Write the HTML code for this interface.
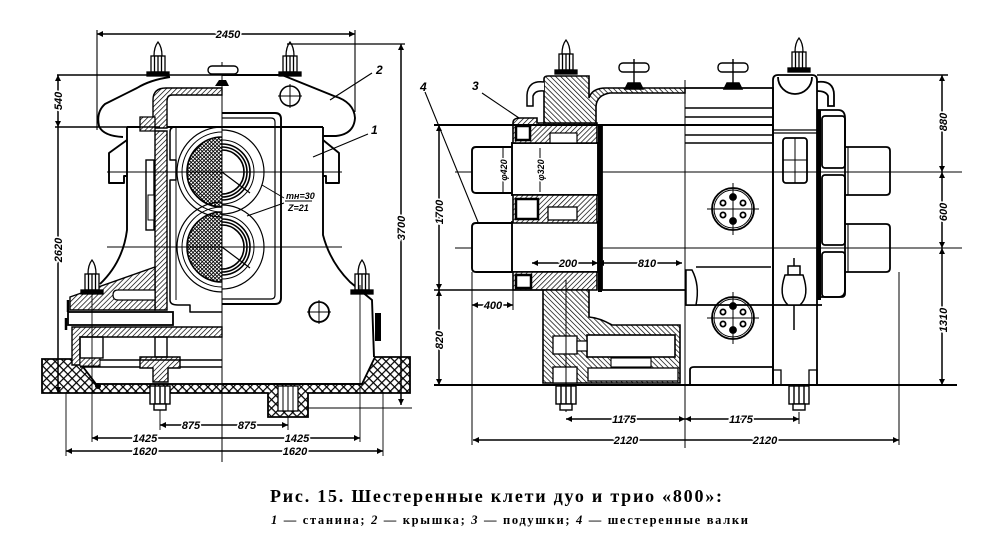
<!DOCTYPE html>
<html><head><meta charset="utf-8">
<style>
html,body{margin:0;padding:0;background:#fff;}
svg{display:block}
.t{font-family:"Liberation Sans",sans-serif;font-style:italic;font-weight:bold;font-size:11px;fill:#000;stroke:#fff;stroke-width:3;paint-order:stroke}
.cap{font-family:"Liberation Serif","Noto Serif CJK SC",serif;font-weight:bold;fill:#000}
</style></head><body>
<svg width="999" height="547" viewBox="0 0 999 547" xmlns="http://www.w3.org/2000/svg">
<defs>
<pattern id="h" width="3.6" height="3.6" patternUnits="userSpaceOnUse" patternTransform="rotate(45)"><rect width="3.6" height="3.6" fill="#fff"/><line x1="0" y1="0" x2="0" y2="3.6" stroke="#000" stroke-width="1.4"/></pattern>
<pattern id="h2" width="3.6" height="3.6" patternUnits="userSpaceOnUse" patternTransform="rotate(-45)"><rect width="3.6" height="3.6" fill="#fff"/><line x1="0" y1="0" x2="0" y2="3.6" stroke="#000" stroke-width="1.4"/></pattern>
<pattern id="x" width="6" height="6" patternUnits="userSpaceOnUse" patternTransform="rotate(45)"><rect width="6" height="6" fill="#fff"/><path d="M0 0H6M0 0V6" stroke="#000" stroke-width="2.4"/></pattern>
<pattern id="g" width="2.6" height="2.6" patternUnits="userSpaceOnUse" patternTransform="rotate(45)"><rect width="2.6" height="2.6" fill="#fff"/><path d="M0 0H2.6M0 0V2.6" stroke="#000" stroke-width="1.7"/></pattern>
<marker id="a" viewBox="0 0 10 10" refX="10" refY="5" markerWidth="6" markerHeight="4" orient="auto-start-reverse"><path d="M0,0 L10,5 L0,10z" fill="#000"/></marker>
<g id="bolt" fill="#fff" stroke="#000" stroke-width="1.3">
<path d="M-4,14 Q-4,5 0,0 Q4,5 4,14 Z"/>
<rect x="-7" y="14" width="14" height="16"/>
<path d="M-3.5,14V30M0,14V30M3.5,14V30" fill="none"/>
<rect x="-11" y="30" width="22" height="4" fill="#000"/>
</g>
<g id="bbolt" fill="#fff" stroke="#000" stroke-width="1.4">
<rect x="-10" y="0" width="20" height="18"/>
<path d="M-5,0V18M0,0V18M5,0V18" fill="none"/>
<rect x="-6" y="18" width="12" height="6"/>
</g>
<g id="scr" fill="#fff" stroke="#000" stroke-width="1.4">
<rect x="-15" y="0" width="30" height="9" rx="4"/>
<path d="M0,-4V26" fill="none"/>
<path d="M-9,26 L-6,20 H6 L9,26 Z" fill="#000"/>
</g>
<g id="flg" fill="none" stroke="#000" stroke-width="1.8">
<circle r="21"/><circle r="19" stroke-width="1"/>
<circle cx="0" cy="-12" r="3" fill="#000"/><circle cx="0" cy="12" r="3" fill="#000"/>
<circle cx="-10" cy="-6" r="2.6"/><circle cx="10" cy="-6" r="2.6"/>
<circle cx="-10" cy="6" r="2.6"/><circle cx="10" cy="6" r="2.6"/>
<path d="M-26,0H26M0,-26V26" stroke-width="1"/>
</g>
</defs>
<rect width="999" height="547" fill="#fff"/>

<!-- ================= LEFT VIEW ================= -->
<path d="M42,359 H77 L96,384 H362 L375,357 H410 V393 H308 V417 H268 V393 H42 Z" fill="url(#x)" stroke="#000" stroke-width="1.8"/>
<rect x="278" y="386" width="20" height="25" fill="#fff" stroke="#000" stroke-width="1.3"/>
<path d="M283,386V411M288,386V411M293,386V411" stroke="#000" stroke-width="1"/>

<g fill="none" stroke="#000" stroke-width="1.9" stroke-linejoin="round">
<path d="M222,75 H282 L334,96 Q354,102 355,118 Q354,134 336,136 H323"/>
<path d="M170,77 Q150,80 137,88 L105,104 Q96,112 99,126 Q103,136 123,137"/>
<path d="M57,75 H222" stroke-width="1.6"/>
<path d="M127,127 H323"/>
<path d="M323,127 V235 Q330,262 350,282 L372,300 L374,357"/>
<path d="M127,127 V230 Q123,262 100,284"/>
<path d="M127,140 L109,153 V183 H124 V176 H127"/>
<path d="M323,140 L339,153 V183 H326 V176 H323"/>
<path d="M222,384 H362"/>
<path d="M222,113 H275 Q281,113 281,119 V298 Q281,304 275,304 H222"/>
<path d="M222,118 H271 Q275,118 275,122 V295 Q275,299 271,299 H222" stroke-width="1.2"/>
<path d="M222,127 H175 Q170,127 170,132 V160 H176 V180 H170 V300 Q170,305 178,305 H190 V312 H222" stroke-width="1.5"/>
<path d="M176,127 V300" stroke-width="1"/>
</g>

<path d="M153,128 V100 Q153,88 166,88 H222 V95 H172 Q167,95 167,101 V128 Z" fill="url(#h)" stroke="#000" stroke-width="1.4"/>
<path d="M140,117 H155 V131 H140 Z" fill="url(#h)" stroke="#000" stroke-width="1.3"/>
<path d="M155,131 H167 V310 H155 Z" fill="url(#h)" stroke="#000" stroke-width="1.4"/>
<rect x="146" y="160" width="8" height="70" fill="#fff" stroke="#000" stroke-width="1.4"/>
<rect x="148" y="195" width="6" height="25" fill="#fff" stroke="#000" stroke-width="1"/>
<path d="M70,297 L155,267 V310 H70 Z" fill="url(#h)" stroke="#000" stroke-width="1.4"/>
<path d="M118,290 H155 V300 H118 Q113,300 113,295 Q113,290 118,290 Z" fill="#fff" stroke="#000" stroke-width="1.2"/>
<rect x="68" y="312" width="105" height="13" fill="#fff" stroke="#000" stroke-width="1.8"/>
<path d="M72,327 H222 V337 H80 V365 H72 Z" fill="url(#h)" stroke="#000" stroke-width="1.4"/>
<path d="M80,358 H100 V366 H80 Z" fill="url(#h)" stroke="#000" stroke-width="1"/>
<path d="M140,357 H180 V368 H168 V382 H153 V368 H140 Z" fill="url(#h)" stroke="#000" stroke-width="1.4"/>
<g fill="none" stroke="#000" stroke-width="1.4">
<rect x="80" y="337" width="23" height="21"/>
<rect x="155" y="337" width="12" height="20"/>
<path d="M100,360 H222 M80,367 H140 M180,367 H222 M96,384 H222"/>
<path d="M68,300 V312 M66,318 V330" stroke-width="2.5"/>
</g>

<!-- gears -->
<path d="M222,137 A35,35 0 0 0 222,207 Z" fill="url(#g)"/>
<path d="M222,212 A35,35 0 0 0 222,282 Z" fill="url(#g)"/>
<g fill="none" stroke="#000">
<path d="M222,137 A35,35 0 0 0 222,207 M222,212 A35,35 0 0 0 222,282" stroke-width="1.6"/>
<path d="M222,127 A45,45 0 0 0 222,217" stroke-width="1.2"/>
<path d="M222,202 A45,45 0 0 0 222,292" stroke-width="1.2"/>
<path d="M222,132 A40,40 0 0 0 222,212" stroke-width="1"/>
<path d="M222,207 A40,40 0 0 0 222,287" stroke-width="1"/>
<path d="M222,130 A42,42 0 0 1 222,214" stroke-width="1.2"/>
<path d="M222,205 A42,42 0 0 1 222,289" stroke-width="1.2"/>
<path d="M222,144 A28,28 0 0 1 222,200 M222,147 A25,25 0 0 1 222,197 M222,150 A22,22 0 0 1 222,194" stroke-width="1.6"/>
<path d="M222,219 A28,28 0 0 1 222,275 M222,222 A25,25 0 0 1 222,272 M222,225 A22,22 0 0 1 222,269" stroke-width="1.6"/>
<path d="M222,140 A32,32 0 0 1 222,204 M222,215 A32,32 0 0 1 222,279" stroke-width="1"/>
<path d="M222,172 L250,193 M222,247 L250,268" stroke-width="1.2"/>
<path d="M262,185 L284,198 M247,216 L284,203" stroke-width="1"/>
</g>
<text class="t" x="286" y="199" style="font-size:9px">mн=30</text>
<path d="M285,201 H312" stroke="#000" stroke-width="1"/>
<text class="t" x="288" y="211" style="font-size:9px">Z=21</text>

<g stroke="#000" stroke-width="1" fill="none">
<path d="M222,62 V462"/>
<path d="M107,172 H342 M107,247 H342"/>
</g>
<rect x="208" y="66" width="30" height="8" rx="4" fill="#fff" stroke="#000" stroke-width="1.4"/>
<path d="M215,86 L219,80 H226 L229,86 Z" fill="#000"/>
<use href="#bolt" x="158" y="42"/>
<use href="#bolt" x="290" y="42"/>
<use href="#bolt" x="92" y="260"/>
<use href="#bolt" x="362" y="260"/>
<use href="#bbolt" x="160" y="386"/>
<circle cx="290" cy="96" r="10" fill="none" stroke="#000" stroke-width="1.5"/>
<path d="M278,96H302M290,84V108" stroke="#000" stroke-width="1"/>
<circle cx="319" cy="312" r="10" fill="none" stroke="#000" stroke-width="1.8"/>
<path d="M307,312H331M319,300V324" stroke="#000" stroke-width="1"/>
<rect x="375" y="313" width="6" height="28" fill="#000"/>
<circle cx="98" cy="386" r="3" fill="#000"/>

<g stroke="#000" stroke-width="1.5" fill="none">
<path d="M97,34 H355" marker-start="url(#a)" marker-end="url(#a)"/>
<path d="M97,30 V130 M355,30 V112" stroke-width="1.1"/>
<path d="M287,44 H405" stroke-width="1.2"/>
<path d="M55,127 H160" stroke-width="1.4"/>
<path d="M58,75 V127" marker-start="url(#a)" marker-end="url(#a)"/>
<path d="M58,127 V393" marker-end="url(#a)"/>
<path d="M401,44 V405" marker-start="url(#a)" marker-end="url(#a)"/>
<path d="M305,408 H412" stroke-width="1.1"/>
<path d="M160,425 H288" marker-start="url(#a)" marker-end="url(#a)"/>
<path d="M92,438 H360" marker-start="url(#a)" marker-end="url(#a)"/>
<path d="M66,451 H383" marker-start="url(#a)" marker-end="url(#a)"/>
<path d="M66,393 V456 M92,285 V442 M160,410 V430 M288,417 V430 M360,285 V442 M383,393 V456" stroke-width="0.9"/>
</g>
<text class="t" x="228" y="38" text-anchor="middle">2450</text>
<text class="t" transform="translate(62,101) rotate(-90)" text-anchor="middle">540</text>
<text class="t" transform="translate(62,250) rotate(-90)" text-anchor="middle">2620</text>
<text class="t" transform="translate(405,228) rotate(-90)" text-anchor="middle">3700</text>
<text class="t" x="191" y="429" text-anchor="middle">875</text>
<text class="t" x="247" y="429" text-anchor="middle">875</text>
<text class="t" x="145" y="442" text-anchor="middle">1425</text>
<text class="t" x="297" y="442" text-anchor="middle">1425</text>
<text class="t" x="145" y="455" text-anchor="middle">1620</text>
<text class="t" x="295" y="455" text-anchor="middle">1620</text>
<text class="t" x="376" y="74" style="font-size:12px">2</text>
<text class="t" x="371" y="134" style="font-size:12px">1</text>
<path d="M372,73 L330,100 M368,134 L313,157" stroke="#000" stroke-width="1.1"/>

<!-- ================= RIGHT VIEW ================= -->
<g stroke="#000" stroke-width="1" fill="none">
<path d="M455,172 H962 M455,248 H962"/>
<path d="M685,80 V448"/>
</g>
<g fill="#fff" stroke="#000" stroke-width="1.9">
<path d="M512,147 H476 Q472,147 472,151 V189 Q472,193 476,193 H512"/>
<path d="M512,223 H476 Q472,223 472,227 V268 Q472,272 476,272 H512"/>
<rect x="512" y="143" width="86" height="52"/>
<rect x="512" y="222" width="86" height="50"/>
</g>
<path d="M513,123 V143 H597 V123 H537 V118 H520 Q513,118 513,123 Z" fill="url(#h)" stroke="#000" stroke-width="1.6"/>
<path d="M516,126 H530 V140 H516 Z" fill="#fff" stroke="#000" stroke-width="2.5"/>
<rect x="550" y="133" width="27" height="10" fill="#fff" stroke="#000" stroke-width="1.2"/>
<path d="M513,195 H597 V223 H513 Z" fill="url(#h)" stroke="#000" stroke-width="1.6"/>
<path d="M516,199 H538 V219 H516 Z" fill="#fff" stroke="#000" stroke-width="2.5"/>
<rect x="548" y="207" width="29" height="13" fill="#fff" stroke="#000" stroke-width="1.3"/>
<path d="M513,272 H597 V290 H513 Z" fill="url(#h)" stroke="#000" stroke-width="1.6"/>
<path d="M516,275 H531 V288 H516 Z" fill="#fff" stroke="#000" stroke-width="2.5"/>
<path d="M544,79 Q544,76 548,76 H589 V98 Q592,88 606,88 H685 V93 H610 Q597,95 596,106 V123 H544 Z" fill="url(#h2)" stroke="#000" stroke-width="1.6"/>
<path d="M544,82 Q528,80 527,95 V106 H533 V96 Q535,90 544,91" fill="#fff" stroke="#000" stroke-width="1.5"/>
<rect x="598" y="124" width="4" height="168" fill="#000"/>
<g fill="none" stroke="#000" stroke-width="1.8">
<path d="M434,125 H773" stroke-width="2"/>
<path d="M602,125 V290 M602,290 H685"/>
<path d="M685,88 H773 V385"/>
<path d="M685,108 H773 M685,117 H773 M685,135 H773 M685,143 H773" stroke-width="1.5"/>
<path d="M685,305 H822"/>
<path d="M690,385 V370 Q690,367 694,367 H773"/>
<path d="M773,385 V80 Q773,75 778,75 H812 Q817,75 817,80 V385"/>
<path d="M778,77 A17,17 0 0 0 812,77"/>
<path d="M773,130 H817 M773,133 H817" stroke-width="1.2"/>
<rect x="783" y="138" width="24" height="45" rx="3"/>
<path d="M783,160 H807 M795,138 V183" stroke-width="1"/>
<path d="M817,82 Q834,80 834,95 V106 H828 V96 Q826,91 817,91"/>
<path d="M817,110 H838 Q845,110 845,118 V290 Q845,297 838,297 H817"/>
<rect x="822" y="116" width="23" height="52" rx="3"/>
<rect x="822" y="175" width="23" height="70" rx="3"/>
<rect x="822" y="252" width="23" height="45" rx="3"/>
<path d="M845,147 H886 Q890,147 890,151 V191 Q890,195 886,195 H845"/>
<path d="M845,224 H886 Q890,224 890,228 V268 Q890,272 886,272 H845"/>
<path d="M848,147 V195 M848,224 V272" stroke-width="1.1"/>
<path d="M773,385 V370 H781 V385 M817,385 V370 H809 V385" stroke-width="1.3"/>
<path d="M434,385 H957" stroke-width="2"/>
</g>
<rect x="817" y="110" width="4" height="190" fill="#000"/>
<path d="M543,290 H589 V317 Q600,318 612,325 H680 V383 H543 Z" fill="url(#h2)" stroke="#000" stroke-width="1.6"/>
<rect x="587" y="335" width="88" height="22" fill="#fff" stroke="#000" stroke-width="1.6"/>
<rect x="553" y="336" width="24" height="18" fill="#fff" stroke="#000" stroke-width="1.3"/>
<rect x="577" y="341" width="10" height="10" fill="#fff" stroke="#000" stroke-width="1.2"/>
<rect x="553" y="367" width="24" height="16" fill="#fff" stroke="#000" stroke-width="1.3"/>
<rect x="588" y="368" width="90" height="13" fill="#fff" stroke="#000" stroke-width="1.3"/>
<rect x="611" y="358" width="40" height="9" fill="#fff" stroke="#000" stroke-width="1.1"/>
<path d="M566,280 V412" stroke="#000" stroke-width="1"/>
<use href="#flg" x="733" y="209"/>
<use href="#flg" x="733" y="318"/>
<use href="#bolt" x="566" y="40"/>
<use href="#bolt" x="799" y="38"/>
<use href="#scr" x="634" y="63"/>
<use href="#scr" x="733" y="63"/>
<use href="#bbolt" x="566" y="386"/>
<use href="#bbolt" x="799" y="386"/>
<g fill="#fff" stroke="#000" stroke-width="1.5">
<path d="M794,258 V272"/>
<rect x="788" y="266" width="12" height="9"/>
<path d="M785,275 Q778,296 788,305 H800 Q810,296 803,275 Z"/>
<path d="M794,305 V330"/>
<path d="M686,270 H692 Q700,285 696,305 H686 Z"/>
</g>
<path d="M696,267 H771" stroke="#000" stroke-width="1.4"/>
<g stroke="#000" stroke-width="1.5" fill="none">
<path d="M817,75 H948" stroke-width="1.4"/>
<path d="M942,75 V172" marker-start="url(#a)" marker-end="url(#a)"/>
<path d="M942,172 V248" marker-start="url(#a)" marker-end="url(#a)"/>
<path d="M942,248 V385" marker-start="url(#a)" marker-end="url(#a)"/>
<path d="M439,125 V290" marker-start="url(#a)" marker-end="url(#a)"/>
<path d="M439,290 V385" marker-start="url(#a)" marker-end="url(#a)"/>
<path d="M434,290 H545" stroke-width="1.4"/>
<path d="M532,263 H598" marker-start="url(#a)" marker-end="url(#a)"/>
<path d="M598,263 H682" marker-start="url(#a)" marker-end="url(#a)"/>
<path d="M472,305 H513" marker-start="url(#a)" marker-end="url(#a)"/>
<path d="M566,419 H685" marker-start="url(#a)" marker-end="url(#a)"/>
<path d="M685,419 H799" marker-start="url(#a)" marker-end="url(#a)"/>
<path d="M473,440 H899" marker-start="url(#a)" marker-end="url(#a)"/>
<path d="M472,272 V445 M899,272 V445 M799,412 V424 M513,290 V310" stroke-width="1"/>
<path d="M503,148 V192 M540,148 V192" stroke-width="1"/>
</g>
<text class="t" transform="translate(947,122) rotate(-90)" text-anchor="middle">880</text>
<text class="t" transform="translate(947,212) rotate(-90)" text-anchor="middle">600</text>
<text class="t" transform="translate(947,320) rotate(-90)" text-anchor="middle">1310</text>
<text class="t" transform="translate(443,212) rotate(-90)" text-anchor="middle">1700</text>
<text class="t" transform="translate(443,340) rotate(-90)" text-anchor="middle">820</text>
<text class="t" transform="translate(507,170) rotate(-90)" text-anchor="middle" style="font-size:9px">φ420</text>
<text class="t" transform="translate(544,170) rotate(-90)" text-anchor="middle" style="font-size:9px">φ320</text>
<text class="t" x="568" y="267" text-anchor="middle">200</text>
<text class="t" x="647" y="267" text-anchor="middle">810</text>
<text class="t" x="493" y="309" text-anchor="middle">400</text>
<text class="t" x="624" y="423" text-anchor="middle">1175</text>
<text class="t" x="741" y="423" text-anchor="middle">1175</text>
<text class="t" x="626" y="444" text-anchor="middle">2120</text>
<text class="t" x="765" y="444" text-anchor="middle">2120</text>
<text class="t" x="420" y="91" style="font-size:12px">4</text>
<text class="t" x="472" y="90" style="font-size:12px">3</text>
<path d="M425,92 L478,222 M482,93 L519,118" stroke="#000" stroke-width="1.1"/>

<text class="cap" x="270" y="502" style="font-size:18px" textLength="452" lengthAdjust="spacing">Рис. 15. Шестеренные  клети  дуо  и  трио  «800»:</text>
<text class="cap" x="271" y="524" style="font-size:12.5px" textLength="477" lengthAdjust="spacing"><tspan font-style="italic">1</tspan> — станина; <tspan font-style="italic">2</tspan> — крышка; <tspan font-style="italic">3</tspan> — подушки; <tspan font-style="italic">4</tspan> — шестеренные валки</text>
</svg>
</body></html>
